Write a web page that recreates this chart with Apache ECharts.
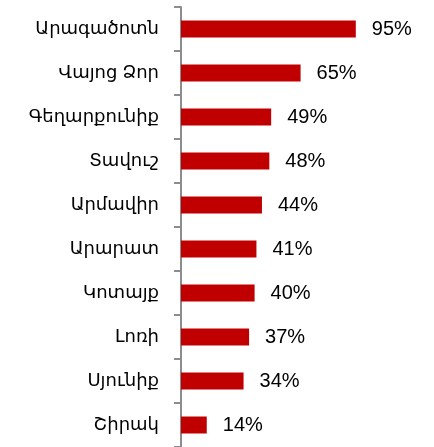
<!DOCTYPE html>
<html>
<head>
<meta charset="utf-8">
<script src="https://cdn.jsdelivr.net/npm/echarts@6.0.0/dist/echarts.min.js"></script>
<style>
	html, body { margin: 0; padding: 0; background: #fff; }
	#chart { width: 434px; height: 447px; }
</style>
</head>
<body>
<div id="chart"></div>
<script>
const regions = ['Արագածոտն', 'Վայոց Ձոր', 'Գեղարքունիք', 'Տավուշ', 'Արմավիր', 'Արարատ', 'Կոտայք', 'Լոռի', 'Սյունիք', 'Շիրակ']
const shares = [95, 65, 49, 48, 44, 41, 40, 37, 34, 14]

const FONT = "'Liberation Sans', Arial, 'DejaVu Sans', sans-serif"

const chart = echarts.init(document.getElementById('chart'))
chart.setOption({
	animation: false,
	grid: {
		left: 181,
		top: 7,
		width: 184,
		height: 445
	},
	xAxis: {
		type: 'value',
		min: 0,
		max: 100,
		show: false
	},
	yAxis: {
		type: 'category',
		inverse: true,
		data: regions,
		axisLine: { show: true, lineStyle: { color: '#8c8c8c', width: 2 } },
		axisTick: { show: true, length: 7, lineStyle: { color: '#8c8c8c', width: 2 } },
		axisLabel: {
			margin: 22,
			color: '#000',
			fontSize: 18,
			fontFamily: FONT
		}
	},
	series: [{
		type: 'bar',
		data: shares,
		barWidth: 17,
		itemStyle: { color: '#c00000' },
		label: {
			show: true,
			position: 'right',
			distance: 16,
			formatter: '{c}%',
			color: '#000',
			fontSize: 20,
			fontFamily: FONT
		}
	}]
})
</script>
</body>
</html>
